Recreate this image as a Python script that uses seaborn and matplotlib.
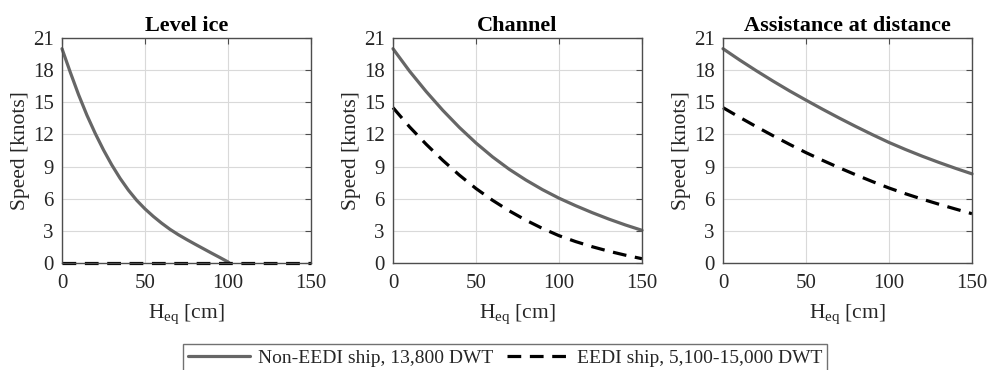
import numpy as np
import pandas as pd
import matplotlib
matplotlib.use("Agg")
import matplotlib.pyplot as plt
import seaborn as sns
from matplotlib.lines import Line2D

# ---- data ----
panels = ["Level ice", "Channel", "Assistance at distance"]
series = ["Non-EEDI ship, 13,800 DWT", "EEDI ship, 5,100-15,000 DWT"]

h_level = [0, 5, 10, 15, 20, 25, 30, 35, 40, 45, 50, 55, 60, 65, 70, 75, 80, 85, 90, 95, 100, 100.8]
level_non = [20.0, 17.8, 15.7, 13.8, 12.1, 10.55, 9.15, 7.9, 6.8, 5.85, 5.05, 4.35, 3.72, 3.15, 2.65,
             2.2, 1.77, 1.35, 0.93, 0.52, 0.1, 0.0]
h_level_eedi = [0, 150]
level_eedi = [0.0, 0.0]

h_std = [0, 10, 20, 30, 40, 50, 60, 70, 80, 90, 100, 110, 120, 130, 140, 150]
channel_non = [20.0, 17.9, 16.0, 14.25, 12.65, 11.2, 9.9, 8.75, 7.75, 6.85, 6.05, 5.35, 4.7, 4.1, 3.55, 3.05]
channel_eedi = [14.5, 12.7, 11.08, 9.58, 8.2, 6.95, 5.85, 4.87, 4.0, 3.23, 2.55, 2.0, 1.52, 1.1, 0.73, 0.4]
assist_non = [20.0, 18.95, 17.95, 16.99, 16.07, 15.2, 14.35, 13.53, 12.74, 11.98, 11.25, 10.59, 9.97, 9.39, 8.84, 8.32]
assist_eedi = [14.5, 13.6, 12.73, 11.89, 11.08, 10.3, 9.58, 8.89, 8.23, 7.6, 7.0, 6.46, 5.96, 5.49, 5.04, 4.6]

x_ticks = [0, 50, 100, 150]
y_ticks = [0, 3, 6, 9, 12, 15, 18, 21]

rows = []
def add(panel, ser, xs, ys):
    for x, y in zip(xs, ys):
        rows.append(dict(panel=panel, series=ser, H=x, speed=y))

add(panels[0], series[0], h_level, level_non)
add(panels[0], series[1], h_level_eedi, level_eedi)
add(panels[1], series[0], h_std, channel_non)
add(panels[1], series[1], h_std, channel_eedi)
add(panels[2], series[0], h_std, assist_non)
add(panels[2], series[1], h_std, assist_eedi)
df = pd.DataFrame(rows)

# ---- style ----
sns.set_style("white")
plt.rcParams["font.family"] = ["Liberation Serif", "DejaVu Serif"]
plt.rcParams["mathtext.fontset"] = "custom"
plt.rcParams["mathtext.rm"] = "Liberation Serif"
plt.rcParams["mathtext.it"] = "Liberation Serif:italic"

colors = {series[0]: "#666666", series[1]: "#000000"}
dashes = {series[0]: "", series[1]: (4.3, 2.7)}

fig = plt.figure(figsize=(9.89, 3.70), dpi=100)
lefts = [62 / 989, 393 / 989, 723 / 989]
w = 249 / 989
b = 1 - 263 / 370
h = 225 / 370

for i, p in enumerate(panels):
    ax = fig.add_axes([lefts[i], b, w, h])
    sub = df[df.panel == p]
    sns.lineplot(data=sub, x="H", y="speed", hue="series", style="series",
                 palette=colors, dashes=dashes, linewidth=2.3, legend=False,
                 ax=ax, estimator=None, sort=False, clip_on=False)
    ax.set_xlim(0, 150)
    ax.set_ylim(0, 21)
    ax.set_xticks(x_ticks)
    ax.set_yticks(y_ticks)
    ax.grid(True, color="#d9d9d9", linewidth=0.8)
    ax.set_axisbelow(True)
    ax.tick_params(direction="in", length=4, width=0.8, top=True, right=True,
                   labelsize=15, colors="#4d4d4d", labelcolor="#262626")
    ax.tick_params(axis="x", pad=8)
    ax.tick_params(axis="y", pad=6)
    for s in ax.spines.values():
        s.set_color("#4d4d4d")
        s.set_linewidth(1.0)
    ax.set_title(p, fontsize=16, fontweight="bold", pad=5, color="#000000")
    ax.set_ylabel("Speed [knots]", fontsize=15.5, color="#262626", labelpad=2)
    ax.set_xlabel(r"H$_{\mathregular{eq}}$ [cm]", fontsize=15.5, color="#262626", labelpad=7)

handles = [Line2D([], [], color=colors[series[0]], linewidth=2.3),
           Line2D([], [], color=colors[series[1]], linewidth=2.3, dashes=dashes[series[1]])]
leg = fig.legend(handles, series, loc="center", bbox_to_anchor=(505 / 989, 1 - 358 / 370),
                 ncol=2, fontsize=14, frameon=True, fancybox=False, handlelength=3.2,
                 columnspacing=0.7, handletextpad=0.4, borderpad=0.25, borderaxespad=0)
leg.get_frame().set_edgecolor("#4d4d4d")
leg.get_frame().set_linewidth(1.0)

fig.savefig("out.png", dpi=100)
